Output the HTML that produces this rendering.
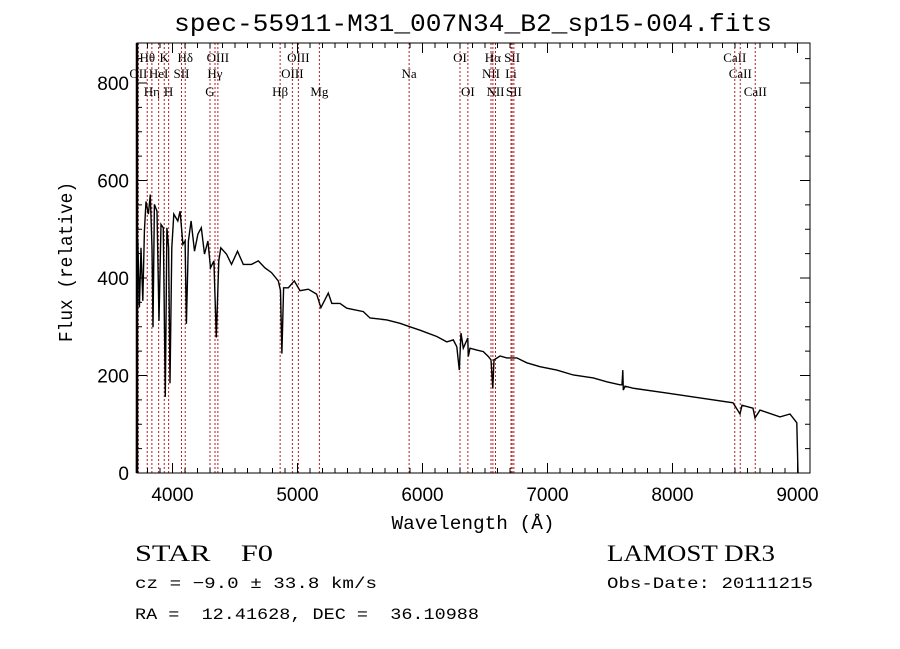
<!DOCTYPE html>
<html><head><meta charset="utf-8"><style>
html,body{margin:0;padding:0;background:#fff;}
svg{display:block;}
text{fill:#000;white-space:pre;}
</style></head><body>
<svg id="chart" width="900" height="649" viewBox="0 0 900 649" xmlns="http://www.w3.org/2000/svg" xml:space="preserve">
<rect x="0" y="0" width="900" height="649" fill="#fff"/>
<text x="473" y="31" text-anchor="middle" font-family="Liberation Mono, monospace" font-size="25" textLength="598" lengthAdjust="spacingAndGlyphs">spec-55911-M31_007N34_B2_sp15-004.fits</text>
<g id="lines"></g>
<g id="spec"></g>
<g id="axes"></g>
<text x="473" y="529" text-anchor="middle" font-family="Liberation Mono, monospace" font-size="19" textLength="163" lengthAdjust="spacingAndGlyphs">Wavelength (Å)</text>
<text transform="translate(72,262) rotate(-90)" text-anchor="middle" font-family="Liberation Mono, monospace" font-size="19" textLength="160" lengthAdjust="spacingAndGlyphs">Flux (relative)</text>
<text x="135" y="561" font-family="Liberation Serif, serif" font-size="23" textLength="138" lengthAdjust="spacingAndGlyphs">STAR    F0</text>
<text x="607" y="561" font-family="Liberation Serif, serif" font-size="23" textLength="168" lengthAdjust="spacingAndGlyphs">LAMOST DR3</text>
<text x="135" y="588" font-family="Liberation Mono, monospace" font-size="16" textLength="242" lengthAdjust="spacingAndGlyphs">cz = −9.0 ± 33.8 km/s</text>
<text x="607" y="588" font-family="Liberation Mono, monospace" font-size="16" textLength="206" lengthAdjust="spacingAndGlyphs">Obs-Date: 20111215</text>
<text x="135" y="619" font-family="Liberation Mono, monospace" font-size="16" textLength="344" lengthAdjust="spacingAndGlyphs">RA =  12.41628, DEC =  36.10988</text>
</svg>
<script>
const waves=[3712,3716,3722,3735,3748,3762,3775,3788,3807,3822,3836,3844,3855,3876,3892,3908,3926,3942,3955,3969,3980,3994,4010,4042,4061,4083,4101,4111,4127,4149,4176,4203,4230,4256,4283,4304,4331,4350,4370,4386,4432,4472,4520,4566,4632,4686,4739,4792,4846,4864,4875,4889,4926,4974,5020,5086,5153,5187,5246,5274,5340,5394,5526,5580,5714,5820,5900,5980,6114,6194,6246,6274,6294,6308,6326,6362,6366,6380,6434,6486,6526,6548,6562,6572,6620,6674,6754,6834,6940,7074,7206,7366,7474,7580,7596,7602,7606,7620,7684,7956,8220,8484,8540,8556,8644,8660,8700,8860,8940,8994,9004];
const flux=[0,470,476,340,462,353,496,557,531,571,462,299,551,537,312,510,503,156,503,462,184,462,531,517,537,469,476,306,476,517,455,490,503,449,476,421,435,278,435,462,449,428,455,428,428,435,421,411,394,374,245,380,380,394,374,377,367,339,369,348,348,338,331,318,314,307,300,293,280,269,273,259,211,287,256,277,239,256,252,249,239,232,174,232,240,236,236,226,218,211,201,195,187,181,181,211,170,178,174,164,154,144,121,139,133,113,129,115,121,103,0];
const lineWaves=[3727,3798,3835,3889,3934,3969,4072,4102,4300,4340,4363,4861,4959,5007,5175,5893,6300,6363,6548,6563,6584,6708,6717,6731,8498,8542,8662];
const lineNames=["OII","Hθ","Hη","HeI","K","H","SII","Hδ","G","Hγ","OIII","Hβ","OIII","OIII","Mg","Na","OI","OI","NII","Hα","NII","Li","SII","SII","CaII","CaII","CaII"];
const lineRows=[1,0,2,1,0,2,1,0,2,1,0,2,1,0,2,1,0,2,1,0,2,1,0,2,0,1,2];
const xTicks=[4000,5000,6000,7000,8000,9000];
const yTicks=[0,200,400,600,800];
const L=137,R=810,T=43,B=473;
const X=w=>172.5+(w-4000)*0.125;
const Y=f=>473-f*0.4875;
const NS="http://www.w3.org/2000/svg";
function mk(tag,parent){const e=document.createElementNS(NS,tag);parent.appendChild(e);return e;}
const lg=document.getElementById('lines');
const rowY=[62,78,96];
lineWaves.forEach((w,i)=>{
  const l=mk('line',lg);
  
  
  l.setAttribute('x1',X(w));l.setAttribute('x2',X(w));l.setAttribute('y1',T);l.setAttribute('y2',B);
  l.setAttribute('stroke','#b41c1c');l.setAttribute('stroke-width','1');l.setAttribute('stroke-dasharray','2,2');
  const t=mk('text',lg);
  
  
  t.setAttribute('x',X(w));t.setAttribute('y',rowY[lineRows[i]]);
  t.setAttribute('text-anchor','middle');t.setAttribute('font-family','Liberation Serif, serif');t.setAttribute('font-size','13');
  t.textContent=lineNames[i];
});
const sg=document.getElementById('spec');
const p=mk('polyline',sg);


p.setAttribute('points',waves.map((w,i)=>X(w).toFixed(1)+','+Y(flux[i]).toFixed(1)).join(' '));
p.setAttribute('fill','none');p.setAttribute('stroke','#000');p.setAttribute('stroke-width','1.4');
const ag=document.getElementById('axes');
const fr=mk('rect',ag);


fr.setAttribute('x',L);fr.setAttribute('y',T);fr.setAttribute('width',R-L);fr.setAttribute('height',B-T);
fr.setAttribute('fill','none');fr.setAttribute('stroke','#000');fr.setAttribute('stroke-width','1');
const la=mk('line',ag);


la.setAttribute('x1',L);la.setAttribute('x2',L);la.setAttribute('y1',T);la.setAttribute('y2',B);la.setAttribute('stroke','#000');la.setAttribute('stroke-width','2.5');
function tick(x1,y1,x2,y2){const t=mk('line',ag);
  
  
  t.setAttribute('x1',x1);t.setAttribute('y1',y1);t.setAttribute('x2',x2);t.setAttribute('y2',y2);t.setAttribute('stroke','#000');t.setAttribute('stroke-width','1');}
for(let w=3800;w<=9100;w+=100){const x=X(w);if(x<L||x>R)continue;const len=(w%1000===0)?10:5;tick(x,B,x,B-len);tick(x,T,x,T+len);}
for(let f=0;f<=850;f+=50){const y=Y(f);if(y<T)continue;const len=(f%200===0)?10:5;tick(L,y,L+len,y);tick(R,y,R-len,y);}
xTicks.forEach(v=>{const t=mk('text',ag);
  
  
  t.setAttribute('x',X(v));t.setAttribute('y',B+28);t.setAttribute('text-anchor','middle');t.setAttribute('font-family','Liberation Sans, sans-serif');t.setAttribute('font-size','19');t.textContent=v;});
yTicks.forEach(v=>{const t=mk('text',ag);
  
  
  t.setAttribute('x',129);t.setAttribute('y',Y(v)+7);t.setAttribute('text-anchor','end');t.setAttribute('font-family','Liberation Sans, sans-serif');t.setAttribute('font-size','19');t.textContent=v;});
</script>
</body></html>
